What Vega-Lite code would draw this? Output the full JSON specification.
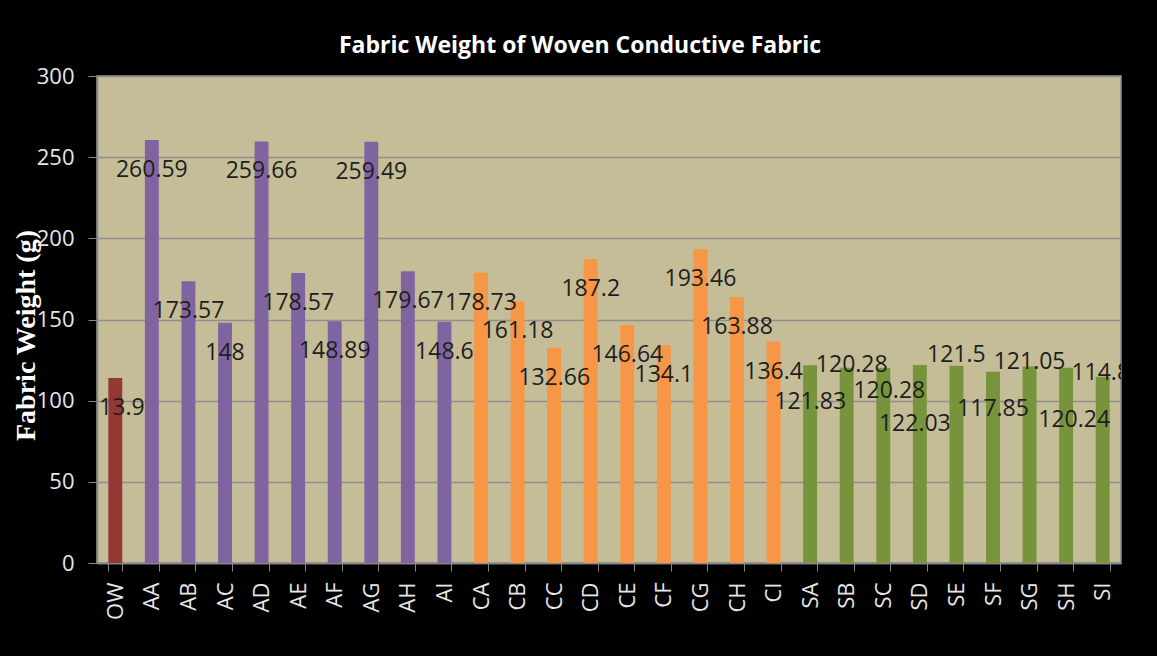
{
  "$schema": "https://vega.github.io/schema/vega-lite/v6.json",
  "width": 1024,
  "height": 487,
  "autosize": {"type": "none"},
  "padding": {"left": 97, "top": 76, "right": 36, "bottom": 93},
  "background": "#000000",
  "title": {
    "text": "Fabric Weight of Woven Conductive Fabric",
    "color": "#ffffff",
    "font": "Open Sans",
    "fontSize": 23,
    "fontWeight": "bold",
    "anchor": "middle",
    "dx": -29,
    "offset": 7
  },
  "config": {
    "view": {"fill": "#C4BD97", "stroke": "#8a8a8a", "strokeWidth": 1.5},
    "axis": {"domainColor": "#8a8a8a", "tickColor": "#8a8a8a", "labelColor": "#e6e6e6", "labelFont": "Open Sans", "labelFontSize": 22},
    "text": {"baseline": "middle", "align": "center", "font": "Open Sans", "fontSize": 23, "color": "#1e1e1e"}
  },
  "data": {
    "values": [
      {"sample": "OW", "series": "O", "weight": 113.9},
      {"sample": "AA", "series": "A", "weight": 260.59},
      {"sample": "AB", "series": "A", "weight": 173.57},
      {"sample": "AC", "series": "A", "weight": 148},
      {"sample": "AD", "series": "A", "weight": 259.66},
      {"sample": "AE", "series": "A", "weight": 178.57},
      {"sample": "AF", "series": "A", "weight": 148.89},
      {"sample": "AG", "series": "A", "weight": 259.49},
      {"sample": "AH", "series": "A", "weight": 179.67},
      {"sample": "AI", "series": "A", "weight": 148.6},
      {"sample": "CA", "series": "C", "weight": 178.73},
      {"sample": "CB", "series": "C", "weight": 161.18},
      {"sample": "CC", "series": "C", "weight": 132.66},
      {"sample": "CD", "series": "C", "weight": 187.2},
      {"sample": "CE", "series": "C", "weight": 146.64},
      {"sample": "CF", "series": "C", "weight": 134.1},
      {"sample": "CG", "series": "C", "weight": 193.46},
      {"sample": "CH", "series": "C", "weight": 163.88},
      {"sample": "CI", "series": "C", "weight": 136.4},
      {"sample": "SA", "series": "S", "weight": 121.83},
      {"sample": "SB", "series": "S", "weight": 120.28},
      {"sample": "SC", "series": "S", "weight": 120.28},
      {"sample": "SD", "series": "S", "weight": 122.03},
      {"sample": "SE", "series": "S", "weight": 121.5},
      {"sample": "SF", "series": "S", "weight": 117.85},
      {"sample": "SG", "series": "S", "weight": 121.05},
      {"sample": "SH", "series": "S", "weight": 120.24},
      {"sample": "SI", "series": "S", "weight": 114.8}
    ]
  },
  "encoding": {
    "x": {
      "field": "sample",
      "type": "nominal",
      "sort": null,
      "scale": {"paddingInner": 0.62, "paddingOuter": 0.31},
      "axis": {
        "title": null,
        "labelAngle": -90,
        "labelAlign": "right",
        "labelBaseline": "middle",
        "labelPadding": 11,
        "tickSize": 8,
        "tickBand": "extent",
        "domainWidth": 1.5
      }
    },
    "y": {
      "field": "weight",
      "type": "quantitative",
      "scale": {"domain": [0, 300], "nice": false},
      "axis": {
        "values": [0, 50, 100, 150, 200, 250, 300],
        "gridColor": "#8f8f8f",
        "gridWidth": 1.5,
        "tickSize": 9,
        "labelPadding": 14,
        "domainWidth": 1.5,
        "title": "Fabric Weight (g)",
        "titleFont": "Liberation Serif",
        "titleFontSize": 28,
        "titleFontWeight": "bold",
        "titleColor": "#ffffff",
        "titleAngle": -90,
        "titleX": -71,
        "titleY": 259,
        "titleAlign": "center",
        "titleBaseline": "middle"
      }
    },
    "text": {"field": "weight", "type": "nominal"}
  },
  "layer": [
    {
      "mark": {"type": "bar"},
      "encoding": {
        "text": null,
        "color": {
          "field": "series",
          "type": "nominal",
          "scale": {"domain": ["O", "A", "C", "S"], "range": ["#953735", "#8064A2", "#F79646", "#77933C"]},
          "legend": null
        }
      }
    },
    {
      "transform": [{"filter": {"field": "series", "oneOf": ["O", "A", "C"]}}],
      "mark": {"type": "text", "dy": 30, "clip": true}
    },
    {
      "transform": [{"filter": {"field": "sample", "oneOf": ["SA", "SF"]}}],
      "mark": {"type": "text", "dy": 37, "clip": true}
    },
    {
      "transform": [{"filter": {"field": "sample", "equal": "SB"}}],
      "mark": {"type": "text", "dy": -3, "dx": 5, "clip": true}
    },
    {
      "transform": [{"filter": {"field": "sample", "equal": "SC"}}],
      "mark": {"type": "text", "dy": 23, "dx": 6, "clip": true}
    },
    {
      "transform": [{"filter": {"field": "sample", "equal": "SD"}}],
      "mark": {"type": "text", "dy": 59, "dx": -5, "clip": true}
    },
    {
      "transform": [{"filter": {"field": "sample", "equal": "SE"}}],
      "mark": {"type": "text", "dy": -11, "clip": true}
    },
    {
      "transform": [{"filter": {"field": "sample", "equal": "SG"}}],
      "mark": {"type": "text", "dy": -4, "clip": true}
    },
    {
      "transform": [{"filter": {"field": "sample", "equal": "SH"}}],
      "mark": {"type": "text", "dy": 52, "dx": 8, "clip": true}
    },
    {
      "transform": [{"filter": {"field": "sample", "equal": "SI"}}],
      "mark": {"type": "text", "dy": -4, "dx": -2, "clip": true}
    }
  ]
}
